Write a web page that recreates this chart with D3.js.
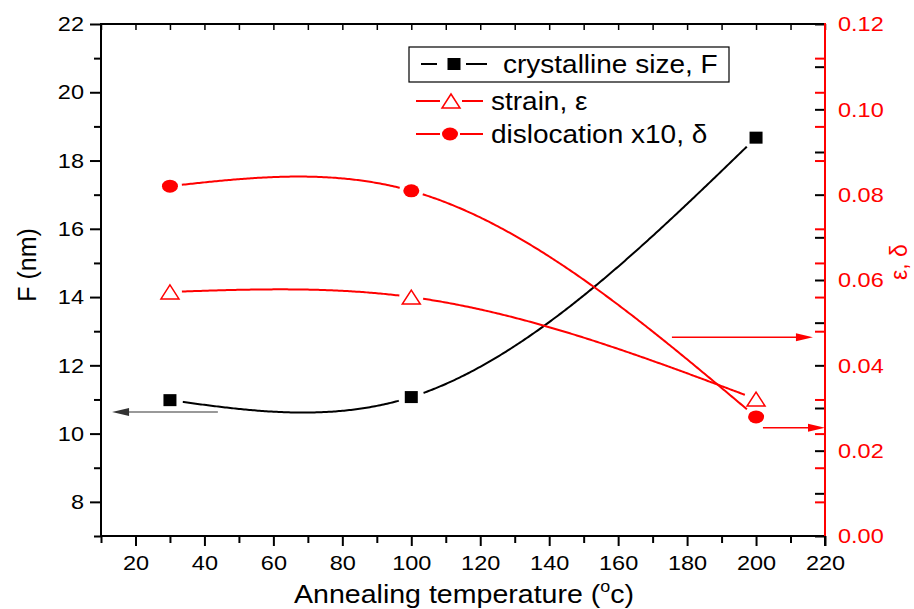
<!DOCTYPE html>
<html>
<head>
<meta charset="utf-8">
<script src="https://cdn.jsdelivr.net/npm/d3@7"></script>
<style>
  body { margin: 0; background: #fff; }
  text { font-family: "Liberation Sans", Arial, sans-serif; }
</style>
</head>
<body>
<svg id="chart" width="914" height="609"></svg>
<script>
/*
Data
*/
var temps = [30, 100, 200];
var sizeF = [10.98, 11.07, 18.67];          // crystalline size, left axis (nm)
var strain = [0.0572, 0.056, 0.0321];       // strain, right axis
var dislocation = [0.082, 0.0809, 0.0279];  // dislocation x10, right axis

var xTicks = [20, 40, 60, 80, 100, 120, 140, 160, 180, 200, 220];
var xMinor = [10, 30, 50, 70, 90, 110, 130, 150, 170, 190, 210];
var leftTicks = [8, 10, 12, 14, 16, 18, 20, 22];
var leftMinor = [7, 9, 11, 13, 15, 17, 19, 21];
var rightTicks = [0, 0.02, 0.04, 0.06, 0.08, 0.10, 0.12];
var rightAll = [0, 0.01, 0.02, 0.03, 0.04, 0.05, 0.06, 0.07, 0.08, 0.09, 0.10, 0.11, 0.12];
var mirrorTicks = [8, 9, 10, 11, 13, 14, 15, 16, 18, 19, 20, 21];

// arrows pointing at the axes: [x from, x to, value]
var arrowLeft = [43.9, 13.2, 10.63];
var arrowRight1 = [175.6, 216.5, 0.0466];
var arrowRight2 = [202, 220, 0.0254];

var RED = "#ff0000";
var SX = 1.12; // picture is a bit wider than normal Arial

var svg = d3.select("#chart");

var x = d3.scaleLinear().domain([10, 220]).range([101, 825]);
var yL = d3.scaleLinear().domain([7, 22]).range([536, 24]);
var yR = d3.scaleLinear().domain([0, 0.12]).range([536, 24]);

/* stretch text horizontally keeping its anchor */
function stretch(sel) {
    sel.each(function () {
        var t = d3.select(this);
        var tx = +t.attr("x") || 0, ty = +t.attr("y") || 0;
        t.attr("x", 0).attr("y", 0)
            .attr("transform", "translate(" + tx + "," + ty + ") scale(" + SX + ",1)");
    });
}

function cleanAxis(g, color, width) {
    g.select(".domain").remove();
    g.selectAll("line").attr("stroke", color).attr("stroke-width", width);
}

/**
 * Natural cubic spline y(x) through the points (like the plotting program's "spline" connector)
 * returns a function of x
 */
function naturalSpline(xs, ys) {
    var n = xs.length, h = [], M = new Array(n).fill(0);
    for (var i = 0; i < n - 1; i++) h.push(xs[i + 1] - xs[i]);
    // tridiagonal system for inner second derivatives
    var a = [], b = [], c = [], r = [];
    for (var i = 1; i < n - 1; i++) {
        a.push(h[i - 1]); b.push(2 * (h[i - 1] + h[i])); c.push(h[i]);
        r.push(6 * ((ys[i + 1] - ys[i]) / h[i] - (ys[i] - ys[i - 1]) / h[i - 1]));
    }
    var m = b.length;
    for (var i = 1; i < m; i++) {
        var w = a[i] / b[i - 1];
        b[i] -= w * c[i - 1];
        r[i] -= w * r[i - 1];
    }
    for (var i = m - 1; i >= 0; i--) {
        M[i + 1] = (r[i] - (i < m - 1 ? c[i] * M[i + 2] : 0)) / b[i];
    }
    return function (xv) {
        var k = 0;
        while (k < n - 2 && xv > xs[k + 1]) k++;
        var hk = h[k], A = (xs[k + 1] - xv) / hk, B = (xv - xs[k]) / hk;
        return A * ys[k] + B * ys[k + 1] +
            ((A * A * A - A) * M[k] + (B * B * B - B) * M[k + 1]) * hk * hk / 6;
    };
}

/* Axes ticks */
// bottom
var gb = svg.append("g").attr("transform", "translate(0,536)");
gb.append("g").call(d3.axisBottom(x).tickValues(xMinor).tickSize(7).tickFormat("")).call(cleanAxis, "#000", 2);
var gbm = gb.append("g").call(d3.axisBottom(x).tickValues(xTicks).tickSize(10).tickPadding(9).tickFormat(d3.format("d")));
gbm.call(cleanAxis, "#000", 2);
gbm.selectAll("text").attr("font-size", 21).attr("fill", "#000").call(stretch);

// top, inward
svg.append("g").attr("transform", "translate(0,24)")
    .call(d3.axisTop(x).tickValues(xMinor.concat(xTicks)).tickSize(-6).tickFormat(""))
    .call(cleanAxis, "#000", 1.5);

// left
var gl = svg.append("g").attr("transform", "translate(101,0)");
gl.append("g").call(d3.axisLeft(yL).tickValues(leftMinor).tickSize(7).tickFormat("")).call(cleanAxis, "#000", 2);
var glm = gl.append("g").call(d3.axisLeft(yL).tickValues(leftTicks).tickSize(11).tickPadding(6).tickFormat(d3.format("d")));
glm.call(cleanAxis, "#000", 2);
glm.selectAll("text").attr("font-size", 21).attr("fill", "#000").call(stretch);

// right: red mirror ticks, black inward ticks, red labels
var gr = svg.append("g").attr("transform", "translate(825,0)");
gr.append("g").call(d3.axisLeft(yL).tickValues(mirrorTicks).tickSize(10).tickFormat("")).call(cleanAxis, RED, 2);
gr.append("g").call(d3.axisLeft(yR).tickValues(rightAll).tickSize(10).tickFormat("")).call(cleanAxis, "#000", 2);
var grl = gr.append("g").call(d3.axisRight(yR).tickValues(rightTicks).tickSize(0).tickPadding(13).tickFormat(d3.format(".2f")));
grl.call(cleanAxis, RED, 0);
grl.selectAll("text").attr("font-size", 21).attr("fill", RED).call(stretch);

/* Frame */
svg.append("line").attr("x1", 100).attr("x2", 826).attr("y1", 24).attr("y2", 24).attr("stroke", "#000").attr("stroke-width", 2);
svg.append("line").attr("x1", 100).attr("x2", 826).attr("y1", 536).attr("y2", 536).attr("stroke", "#000").attr("stroke-width", 2);
svg.append("line").attr("x1", 101).attr("x2", 101).attr("y1", 23).attr("y2", 537).attr("stroke", "#000").attr("stroke-width", 2);
svg.append("line").attr("x1", 825).attr("x2", 825).attr("y1", 23).attr("y2", 537).attr("stroke", RED).attr("stroke-width", 2);
svg.append("line").attr("x1", 825).attr("x2", 825).attr("y1", 536).attr("y2", 546).attr("stroke", "#000").attr("stroke-width", 2);

/* Axis titles */
var xt = svg.append("text").attr("x", 464).attr("y", 603).attr("text-anchor", "middle")
    .attr("font-size", 25.5).attr("fill", "#000");
xt.append("tspan").text("Annealing temperature (");
xt.append("tspan").attr("font-size", 16).attr("dy", -11).text("o");
xt.append("tspan").attr("dy", 11).text("c)");
xt.call(stretch);

svg.append("text").attr("transform", "translate(36,265) rotate(-90)").attr("text-anchor", "middle")
    .attr("font-size", 25).attr("fill", "#000").text("F (nm)");
svg.append("text").attr("transform", "translate(907,262) rotate(-90)").attr("text-anchor", "middle")
    .attr("font-size", 23).attr("fill", RED).text("ε, δ");

/* Markers */
function triPath(cx, cy) {
    return "M" + cx + "," + (cy - 7) + "L" + (cx + 9) + "," + (cy + 7) + "L" + (cx - 9) + "," + (cy + 7) + "Z";
}
function drawSquare(g, cx, cy) {
    g.append("rect").attr("x", cx - 6.5).attr("y", cy - 6).attr("width", 13).attr("height", 12).attr("fill", "#000");
}
function drawTri(g, cx, cy) {
    g.append("path").attr("d", triPath(cx, cy)).attr("fill", "#fff").attr("stroke", RED).attr("stroke-width", 1.5);
}
function drawDot(g, cx, cy) {
    g.append("ellipse").attr("cx", cx).attr("cy", cy).attr("rx", 8).attr("ry", 6.5).attr("fill", RED);
}

/* Series: spline curve with gaps around the symbols */
var defs = svg.append("defs");
var series = [
    { name: "F", vals: sizeF, y: yL, color: "#000", gap: 13, draw: drawSquare },
    { name: "strain", vals: strain, y: yR, color: RED, gap: 12, draw: drawTri },
    { name: "disl", vals: dislocation, y: yR, color: RED, gap: 12, draw: drawDot }
];

series.forEach(function (s) {
    var pts = temps.map(function (t, i) { return [x(t), s.y(s.vals[i])]; });
    var mask = defs.append("mask").attr("id", "gap-" + s.name).attr("maskUnits", "userSpaceOnUse")
        .attr("x", 0).attr("y", 0).attr("width", 914).attr("height", 609);
    mask.append("rect").attr("width", 914).attr("height", 609).attr("fill", "#fff");
    pts.forEach(function (p) {
        mask.append("circle").attr("cx", p[0]).attr("cy", p[1]).attr("r", s.gap).attr("fill", "#000");
    });
    var f = naturalSpline(temps, s.vals);
    var xs = d3.range(temps[0], temps[temps.length - 1] + 0.01, 0.5);
    var line = d3.line()
        .x(function (t) { return x(t); })
        .y(function (t) { return s.y(f(t)); });
    svg.append("path").attr("d", line(xs)).attr("fill", "none")
        .attr("stroke", s.color).attr("stroke-width", 2).attr("mask", "url(#gap-" + s.name + ")");
    pts.forEach(function (p) { s.draw(svg, p[0], p[1]); });
});

/* Arrows */
function arrow(a, yScale, lineColor, headColor) {
    var x1 = x(a[0]), x2 = x(a[1]), yy = yScale(a[2]);
    var dir = x2 > x1 ? 1 : -1;
    svg.append("line").attr("x1", x1).attr("x2", x2 - dir * 12).attr("y1", yy).attr("y2", yy)
        .attr("stroke", lineColor).attr("stroke-width", 1.5);
    svg.append("path")
        .attr("d", "M" + x2 + "," + yy + "L" + (x2 - dir * 17) + "," + (yy - 4) + "L" + (x2 - dir * 17) + "," + (yy + 4) + "Z")
        .attr("fill", headColor);
}
arrow(arrowLeft, yL, "#777", "#333");
arrow(arrowRight1, yR, RED, RED);
arrow(arrowRight2, yR, RED, RED);

/* Legend */
var lg = svg.append("g");
lg.append("rect").attr("x", 409).attr("y", 47).attr("width", 320).attr("height", 35)
    .attr("fill", "none").attr("stroke", "#000").attr("stroke-width", 1.2);
function legendLine(x1, x2, yy, color) {
    lg.append("line").attr("x1", x1).attr("x2", x2).attr("y1", yy).attr("y2", yy).attr("stroke", color).attr("stroke-width", 2);
}
legendLine(421, 437, 64, "#000"); legendLine(466, 487, 64, "#000");
drawSquare(lg, 454, 64);
legendLine(416, 440, 101, RED); legendLine(462, 483, 101, RED);
drawTri(lg, 451, 101);
legendLine(416, 440, 134, RED); legendLine(460, 483, 134, RED);
drawDot(lg, 450, 134);

var legendText = [
    { t: "crystalline size, F", x: 503, y: 73 },
    { t: "strain, ε", x: 491, y: 110 },
    { t: "dislocation x10, δ", x: 491, y: 143 }
];
legendText.forEach(function (d) {
    lg.append("text").attr("x", d.x).attr("y", d.y).attr("font-size", 25).attr("fill", "#000").text(d.t).call(stretch);
});
</script>
</body>
</html>
